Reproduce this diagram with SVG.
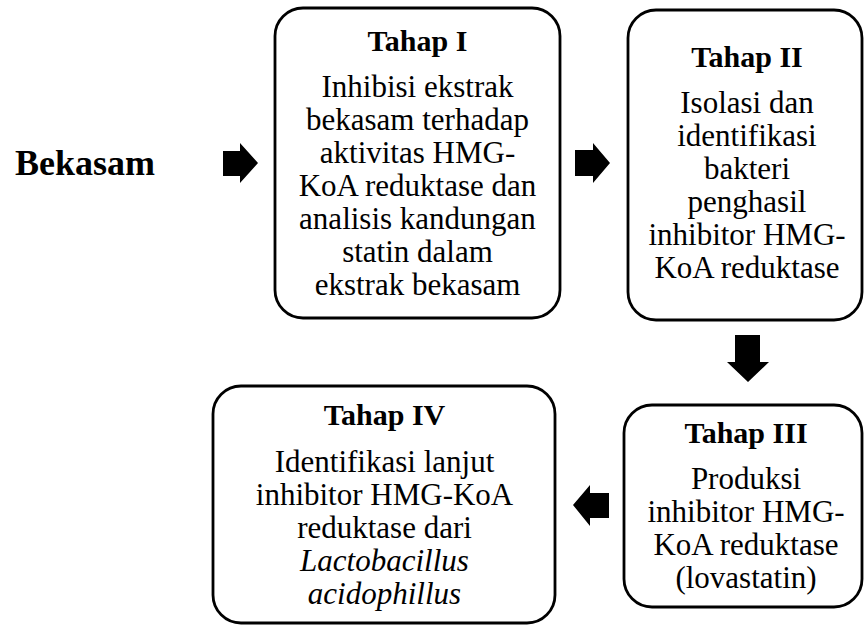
<svg xmlns="http://www.w3.org/2000/svg" width="865" height="626" viewBox="0 0 865 626">
<style>
.box{fill:#fff;stroke:#000;stroke-width:2.8}
.t{font-family:"Liberation Serif","Times New Roman",serif;fill:#000;text-anchor:middle}
.h{font-size:30px;font-weight:bold}
.b{font-size:31px}
.i{font-style:italic}
.arr{fill:#000;stroke:none}
</style>
<rect width="865" height="626" fill="#fff"/>
<g id="bekasam">
<text class="t" x="85" y="175" font-size="36" font-weight="bold">Bekasam</text>
</g>
<g id="tahap1">
<rect class="box" x="275" y="8" width="285" height="310" rx="28"/>
<text class="t h" x="417.5" y="51">Tahap I</text>
<text class="t b" x="417.5" y="97">Inhibisi ekstrak</text>
<text class="t b" x="417.5" y="130">bekasam terhadap</text>
<text class="t b" x="417.5" y="163">aktivitas HMG-</text>
<text class="t b" x="417.5" y="196">KoA reduktase dan</text>
<text class="t b" x="417.5" y="229">analisis kandungan</text>
<text class="t b" x="417.5" y="262">statin dalam</text>
<text class="t b" x="417.5" y="295">ekstrak bekasam</text>
</g>
<g id="tahap2">
<rect class="box" x="628" y="10" width="234" height="310" rx="28"/>
<text class="t h" x="747" y="67">Tahap II</text>
<text class="t b" x="747" y="113">Isolasi dan</text>
<text class="t b" x="747" y="146">identifikasi</text>
<text class="t b" x="747" y="179">bakteri</text>
<text class="t b" x="747" y="212">penghasil</text>
<text class="t b" x="747" y="245">inhibitor HMG-</text>
<text class="t b" x="747" y="278">KoA reduktase</text>
</g>
<g id="tahap3">
<rect class="box" x="624" y="405" width="238" height="202" rx="28"/>
<text class="t h" x="746" y="443">Tahap III</text>
<text class="t b" x="746" y="489">Produksi</text>
<text class="t b" x="746" y="522">inhibitor HMG-</text>
<text class="t b" x="746" y="555">KoA reduktase</text>
<text class="t b" x="746" y="588">(lovastatin)</text>
</g>
<g id="tahap4">
<rect class="box" x="213" y="386" width="342" height="237" rx="28"/>
<text class="t h" x="384.5" y="425">Tahap IV</text>
<text class="t b" x="384.5" y="472">Identifikasi lanjut</text>
<text class="t b" x="384.5" y="505">inhibitor HMG-KoA</text>
<text class="t b" x="384.5" y="538">reduktase dari</text>
<text class="t b i" x="384.5" y="571">Lactobacillus</text>
<text class="t b i" x="384.5" y="604">acidophillus</text>
</g>
<g id="connectors">
<polygon class="arr" points="223,151 240,151 240,143 258,163 240,183 240,176 223,176"/>
<polygon class="arr" points="575,150 593,150 593,143 610,163 593,183 593,176 575,176"/>
<polygon class="arr" points="735,335 760,335 760,362 769,362 748,382 727,362 735,362"/>
<polygon class="arr" points="609,493 609,518 590,518 590,526 573,505 590,485 590,493"/>
</g>
</svg>
